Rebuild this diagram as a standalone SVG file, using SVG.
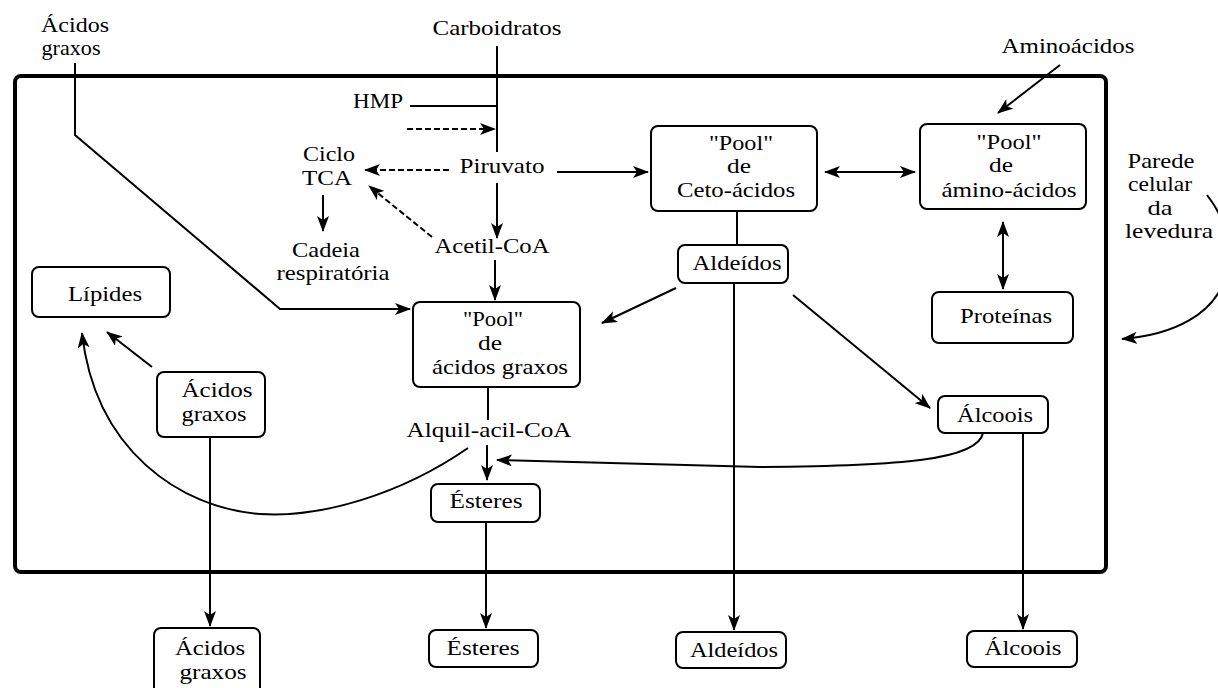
<svg xmlns="http://www.w3.org/2000/svg" width="1218" height="688" viewBox="0 0 1218 688" font-family="'Liberation Serif', Tinos, 'Times New Roman', Times, serif">
<style>
text{font-family:"Liberation Serif",Tinos,"Times New Roman",Times,serif;font-size:21px;fill:#000;text-anchor:middle}
.box{fill:#fff;stroke:#000;stroke-width:2}
.ln{fill:none;stroke:#000;stroke-width:2}
.ds{fill:none;stroke:#000;stroke-width:2;stroke-dasharray:6 3}
.fr{fill:none;stroke:#000;stroke-width:4}
</style>
<defs>
<marker id="ah" viewBox="0 0 16 12" refX="15" refY="6" markerWidth="16" markerHeight="12" markerUnits="userSpaceOnUse" orient="auto-start-reverse">
<path d="M0,0 L16,6 L0,12 L4,6 z" fill="#000"/>
</marker>
</defs>
<rect width="1218" height="688" fill="#fff"/>
<rect id="frame" class="fr" x="15" y="76" width="1091" height="496" rx="6"/>

<g id="connectors">
<path class="ln" d="M75 63 L75 135 L280 309 L410 309" marker-end="url(#ah)"/>
<path class="ln" d="M497 46 L497 152"/>
<path class="ln" d="M410 106 L497 106"/>
<path class="ds" d="M407 129 L495 129" marker-end="url(#ah)"/>
<path class="ln" d="M497 183 L497 238" marker-end="url(#ah)"/>
<path class="ln" d="M495 260 L495 300" marker-end="url(#ah)"/>
<path class="ds" d="M449 170 L365 170" marker-end="url(#ah)"/>
<path class="ds" d="M432 237 L369 186" marker-end="url(#ah)"/>
<path class="ln" d="M323 195 L323 231" marker-end="url(#ah)"/>
<path class="ln" d="M557 172 L648 172" marker-end="url(#ah)"/>
<path class="ln" d="M825 172 L915 172" marker-start="url(#ah)" marker-end="url(#ah)"/>
<path class="ln" d="M1060 65 L998 113" marker-end="url(#ah)"/>
<path class="ln" d="M1003 222 L1003 289" marker-start="url(#ah)" marker-end="url(#ah)"/>
<path class="ln" d="M737 211 L737 245"/>
<path class="ln" d="M734 283 L734 630" marker-end="url(#ah)"/>
<path class="ln" d="M676 288 L602 323" marker-end="url(#ah)"/>
<path class="ln" d="M793 295 L930 408" marker-end="url(#ah)"/>
<path class="ln" d="M488 387 L488 420"/>
<path class="ln" d="M487 445 L487 480" marker-end="url(#ah)"/>
<path class="ln" d="M983 433 C 978 460, 900 466, 760 467 L 497 460" marker-end="url(#ah)"/>
<path class="ln" d="M486 522 L486 628" marker-end="url(#ah)"/>
<path class="ln" d="M1023 433 L1023 629" marker-end="url(#ah)"/>
<path class="ln" d="M468 448 C 400 495, 320 518, 260 514 C 180 508, 95 450, 82 333" marker-end="url(#ah)"/>
<path class="ln" d="M152 367 L107 332" marker-end="url(#ah)"/>
<path class="ln" d="M210 437 L210 626" marker-end="url(#ah)"/>
<path class="ln" d="M1207 195 C 1250 250, 1235 330, 1122 339" marker-end="url(#ah)"/>
</g>

<g id="acidos-graxos-entrada">
<text x="75" y="32" textLength="68" lengthAdjust="spacingAndGlyphs">Ácidos</text>
<text x="71" y="55" textLength="59" lengthAdjust="spacingAndGlyphs">graxos</text>
</g>
<g id="carboidratos"><text x="497" y="35" textLength="129" lengthAdjust="spacingAndGlyphs">Carboidratos</text></g>
<g id="aminoacidos-entrada"><text x="1068" y="53" textLength="133" lengthAdjust="spacingAndGlyphs">Aminoácidos</text></g>
<g id="hmp"><text x="378" y="108" textLength="50" lengthAdjust="spacingAndGlyphs">HMP</text></g>
<g id="ciclo-tca">
<text x="329" y="161" textLength="52" lengthAdjust="spacingAndGlyphs">Ciclo</text>
<text x="327" y="185" textLength="50" lengthAdjust="spacingAndGlyphs">TCA</text>
</g>
<g id="piruvato"><text x="502" y="173" textLength="85" lengthAdjust="spacingAndGlyphs">Piruvato</text></g>
<g id="cadeia">
<text x="326" y="257" textLength="68" lengthAdjust="spacingAndGlyphs">Cadeia</text>
<text x="333" y="280" textLength="113" lengthAdjust="spacingAndGlyphs">respiratória</text>
</g>
<g id="acetil-coa"><text x="492" y="253" textLength="115" lengthAdjust="spacingAndGlyphs">Acetil-CoA</text></g>

<g id="pool-ceto">
<rect class="box" x="651" y="126" width="166" height="85" rx="7"/>
<text x="741" y="150" textLength="64" lengthAdjust="spacingAndGlyphs">"Pool"</text>
<text x="739" y="173" textLength="24" lengthAdjust="spacingAndGlyphs">de</text>
<text x="736" y="197" textLength="118" lengthAdjust="spacingAndGlyphs">Ceto-ácidos</text>
</g>
<g id="pool-amino">
<rect class="box" x="920" y="124" width="166" height="85" rx="7"/>
<text x="1009" y="149" textLength="65" lengthAdjust="spacingAndGlyphs">"Pool"</text>
<text x="1001" y="172" textLength="24" lengthAdjust="spacingAndGlyphs">de</text>
<text x="1009" y="197" textLength="135" lengthAdjust="spacingAndGlyphs">ámino-ácidos</text>
</g>
<g id="parede">
<text x="1161" y="168" textLength="67" lengthAdjust="spacingAndGlyphs">Parede</text>
<text x="1160" y="191" textLength="64" lengthAdjust="spacingAndGlyphs">celular</text>
<text x="1160" y="215" textLength="25" lengthAdjust="spacingAndGlyphs">da</text>
<text x="1169" y="238" textLength="88" lengthAdjust="spacingAndGlyphs">levedura</text>
</g>
<g id="aldeidos">
<rect class="box" x="678" y="245" width="110" height="38" rx="7"/>
<text x="737" y="270" textLength="89" lengthAdjust="spacingAndGlyphs">Aldeídos</text>
</g>
<g id="proteinas">
<rect class="box" x="932" y="292" width="141" height="51" rx="7"/>
<text x="1006" y="323" textLength="92" lengthAdjust="spacingAndGlyphs">Proteínas</text>
</g>
<g id="lipides">
<rect class="box" x="32" y="267" width="138" height="50" rx="7"/>
<text x="105" y="301" textLength="74" lengthAdjust="spacingAndGlyphs">Lípides</text>
</g>
<g id="pool-acidos-graxos">
<rect class="box" x="413" y="302" width="167" height="85" rx="7"/>
<text x="493" y="326" textLength="60" lengthAdjust="spacingAndGlyphs">"Pool"</text>
<text x="490" y="350" textLength="24" lengthAdjust="spacingAndGlyphs">de</text>
<text x="500" y="374" textLength="136" lengthAdjust="spacingAndGlyphs">ácidos graxos</text>
</g>
<g id="acidos-graxos">
<rect class="box" x="157" y="372" width="108" height="65" rx="7"/>
<text x="217" y="397" textLength="71" lengthAdjust="spacingAndGlyphs">Ácidos</text>
<text x="214" y="421" textLength="65" lengthAdjust="spacingAndGlyphs">graxos</text>
</g>
<g id="alcoois">
<rect class="box" x="938" y="396" width="110" height="37" rx="7"/>
<text x="995" y="422" textLength="76" lengthAdjust="spacingAndGlyphs">Álcoois</text>
</g>
<g id="alquil-acil-coa"><text x="489" y="437" textLength="165" lengthAdjust="spacingAndGlyphs">Alquil-acil-CoA</text></g>
<g id="esteres">
<rect class="box" x="431" y="484" width="109" height="38" rx="7"/>
<text x="486" y="508" textLength="73" lengthAdjust="spacingAndGlyphs">Ésteres</text>
</g>

<g id="acidos-graxos-saida">
<rect class="box" x="154" y="628" width="106" height="70" rx="7"/>
<text x="210" y="655" textLength="70" lengthAdjust="spacingAndGlyphs">Ácidos</text>
<text x="213" y="679" textLength="67" lengthAdjust="spacingAndGlyphs">graxos</text>
</g>
<g id="esteres-saida">
<rect class="box" x="429" y="630" width="109" height="37" rx="7"/>
<text x="483" y="655" textLength="73" lengthAdjust="spacingAndGlyphs">Ésteres</text>
</g>
<g id="aldeidos-saida">
<rect class="box" x="676" y="632" width="110" height="36" rx="7"/>
<text x="734" y="657" textLength="88" lengthAdjust="spacingAndGlyphs">Aldeídos</text>
</g>
<g id="alcoois-saida">
<rect class="box" x="967" y="631" width="110" height="36" rx="7"/>
<text x="1023" y="655" textLength="77" lengthAdjust="spacingAndGlyphs">Álcoois</text>
</g>
</svg>
